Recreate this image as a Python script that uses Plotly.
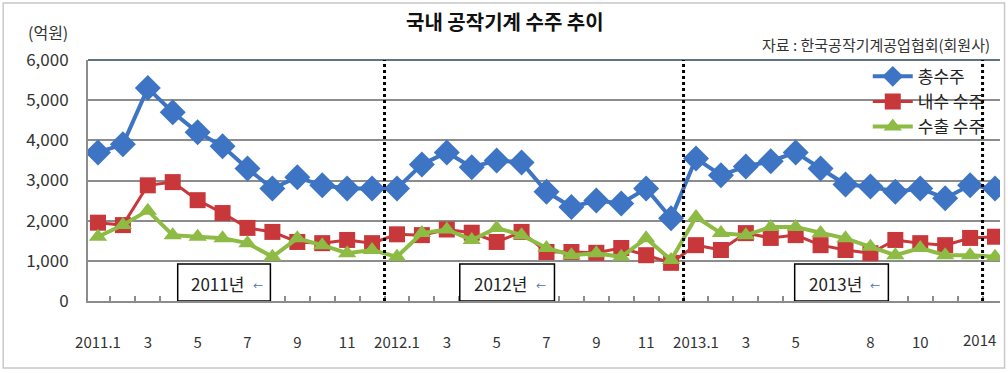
import plotly.graph_objects as go

months = ["2011.1","2011.2","2011.3","2011.4","2011.5","2011.6","2011.7","2011.8","2011.9","2011.10","2011.11","2011.12",
          "2012.1","2012.2","2012.3","2012.4","2012.5","2012.6","2012.7","2012.8","2012.9","2012.10","2012.11","2012.12",
          "2013.1","2013.2","2013.3","2013.4","2013.5","2013.6","2013.7","2013.8","2013.9","2013.10","2013.11","2013.12",
          "2014.1"]

total = [3700, 3900, 5300, 4700, 4200, 3850, 3300, 2800, 3080, 2880, 2800, 2800,
         2800, 3400, 3700, 3330, 3500, 3450, 2720, 2340, 2500, 2430, 2800, 2060,
         3550, 3130, 3350, 3480, 3700, 3300, 2900, 2850, 2720, 2800, 2560, 2880,
         2800]
domestic = [1950, 1890, 2880, 2960, 2510, 2190, 1820, 1720, 1470, 1440, 1520, 1440,
            1660, 1640, 1780, 1700, 1470, 1720, 1220, 1220, 1200, 1320, 1140, 950,
            1390, 1270, 1690, 1570, 1640, 1390, 1270, 1190, 1520, 1440, 1390, 1570,
            1600]
export = [1600, 1890, 2250, 1640, 1600, 1560, 1440, 1100, 1560, 1390, 1190, 1270,
          1100, 1690, 1780, 1520, 1820, 1640, 1320, 1140, 1190, 1100, 1560, 1020,
          2090, 1690, 1640, 1840, 1840, 1690, 1560, 1350, 1140, 1320, 1140, 1140,
          1100]

series_names = ["총수주", "내수 수주", "수출 수주"]
tick_idx = [0, 2, 4, 6, 8, 10, 12, 14, 16, 18, 20, 22, 24, 26, 28, 31, 33]
tick_text = ["2011.1", "3", "5", "7", "9", "11", "2012.1", "3", "5", "7", "9", "11",
             "2013.1", "3", "5", "8", "10"]
last_tick_idx = 36
last_tick_text = "2014"
year_labels = ["2011년", "2012년", "2013년"]
year_box_x = [(3.2, 6.92), (14.52, 18.32), (27.96, 31.72)]
year_sep = [11.5, 23.5, 35.5]

FONT = "Noto Sans CJK KR"
x = list(range(len(months)))

fig = go.Figure()
fig.add_trace(go.Scatter(x=x, y=total, name=series_names[0], mode="lines+markers",
                         line=dict(color="#3D74C4", width=4),
                         marker=dict(symbol="diamond", size=20, color="#3D74C4")))
fig.add_trace(go.Scatter(x=x, y=domestic, name=series_names[1], mode="lines+markers",
                         line=dict(color="#C8373A", width=3),
                         marker=dict(symbol="square", size=16, color="#C8373A")))
fig.add_trace(go.Scatter(x=x, y=export, name=series_names[2], mode="lines+markers",
                         line=dict(color="#8DBB43", width=4),
                         marker=dict(symbol="triangle-up", size=16, color="#8DBB43")))

shapes = []
for s in year_sep:
    shapes.append(dict(type="line", xref="x", yref="paper", x0=s, x1=s, y0=0, y1=1,
                       line=dict(color="black", width=3, dash="dot"), layer="above"))
shapes.append(dict(type="line", xref="paper", yref="paper", x0=0, x1=1, y0=1, y1=1,
                   line=dict(color="#5F7385", width=2), layer="below"))
for (x0, x1) in year_box_x:
    shapes.append(dict(type="rect", xref="x", yref="y", x0=x0, x1=x1, y0=0, y1=920,
                       line=dict(color="black", width=1.5), fillcolor="white", layer="above"))
shapes.append(dict(type="rect", xref="paper", yref="paper", x0=-0.093, x1=1.005, y0=-0.278, y1=1.237,
                   line=dict(color="#C8C8C8", width=1.5), fillcolor="rgba(0,0,0,0)"))

annotations = []
for (x0, x1), lab in zip(year_box_x, year_labels):
    cx = (x0 + x1) / 2
    annotations.append(dict(x=cx - 0.25, y=430, xref="x", yref="y", text=lab, showarrow=False,
                            xanchor="center", yanchor="middle",
                            font=dict(family=FONT, size=17, color="#222")))
    annotations.append(dict(x=cx + 1.35, y=380, xref="x", yref="y", text="←", showarrow=False,
                            xanchor="center", yanchor="middle",
                            font=dict(family=FONT, size=10, color="#4A6FB0")))

annotations.append(dict(x=0.457, y=1.158, xref="paper", yref="paper", text="<b>국내 공작기계 수주 추이</b>",
                        xanchor="center", yanchor="middle",
                        showarrow=False, font=dict(family=FONT, size=20, color="#111")))
annotations.append(dict(x=0.991, y=1.065, xref="paper", yref="paper", xanchor="right", yanchor="middle",
                        text="자료 : 한국공작기계공업협회(회원사)", showarrow=False,
                        font=dict(family=FONT, size=15, color="#333")))
annotations.append(dict(x=-0.044, y=1.116, xref="paper", yref="paper", text="(억원)",
                        xanchor="center", yanchor="middle",
                        showarrow=False, font=dict(family=FONT, size=16, color="#333")))
annotations.append(dict(x=last_tick_idx, y=-0.16, xref="x", yref="paper", text=last_tick_text,
                        xanchor="right", yanchor="middle", xshift=3, showarrow=False,
                        font=dict(family=FONT, size=15, color="#333")))

fig.update_layout(
    width=1008, height=373,
    margin=dict(l=88, r=8, t=60, b=72),
    paper_bgcolor="white", plot_bgcolor="white",
    font=dict(family=FONT, color="#333"),
    showlegend=True,
    legend=dict(x=0.855, y=1.005, xanchor="left", yanchor="top", bgcolor="rgba(0,0,0,0)",
                font=dict(family=FONT, size=17, color="#222"), tracegroupgap=0,
                itemwidth=40),
    shapes=shapes, annotations=annotations,
    xaxis=dict(range=[-0.4, 36.2], tickmode="array", tickvals=tick_idx, ticktext=tick_text,
               showgrid=False, zeroline=False, showline=True, linecolor="#8C8C8C", linewidth=2,
               ticks="", ticklabelstandoff=27,
               tickfont=dict(family=FONT, size=15, color="#333"),
               minor=dict(tick0=0.5, dtick=1, ticks="inside", ticklen=5, tickcolor="#8C8C8C",
                          tickwidth=2, showgrid=False)),
    yaxis=dict(range=[0, 6000], tickvals=[0, 1000, 2000, 3000, 4000, 5000, 6000],
               ticktext=["0", "1,000", "2,000", "3,000", "4,000", "5,000", "6,000"],
               showgrid=True, gridcolor="#8C8C8C", gridwidth=2, zeroline=False,
               showline=True, linecolor="#8C8C8C", linewidth=2, ticks="", ticklabelstandoff=14,
               tickfont=dict(family=FONT, size=17, color="#333")),
)

fig.write_html("out.html", config={"displayModeBar": False},
               post_script="document.body.style.margin='0';document.body.style.padding='0';")
